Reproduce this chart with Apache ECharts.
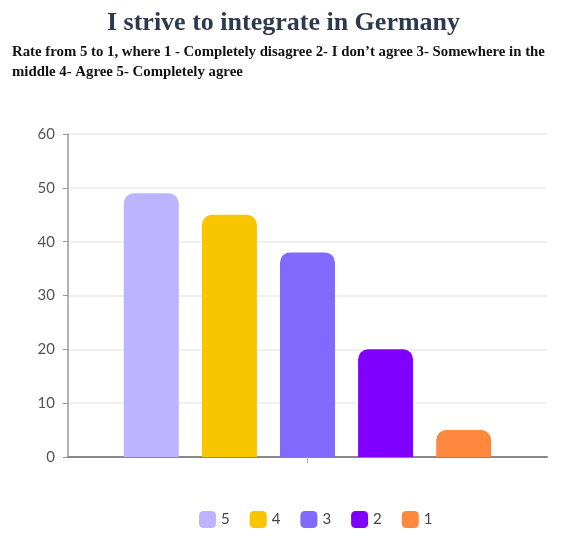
<!DOCTYPE html>
<html>
<head>
<meta charset="utf-8">
<script src="https://cdn.jsdelivr.net/npm/echarts@6/dist/echarts.min.js"></script>
<style>
  html, body { margin: 0; padding: 0; background: #fff; }
  #chart { width: 567px; height: 539px; }
</style>
</head>
<body>
<div id="chart"></div>
<script>
const categories = ['']
const seriesNames = ['5', '4', '3', '2', '1']
const seriesValues = [49, 45, 38, 20, 5]
const seriesColors = ['#bcb4fe', '#f9c400', '#8269fe', '#7f00fe', '#fe883d']
const yTicks = { min: 0, max: 60, interval: 10 }

const chart = echarts.init(document.getElementById('chart'))

const series = seriesNames.map((name, i) => ({
    name: name,
    type: 'bar',
    data: [seriesValues[i]],
    barWidth: 55,
    barGap: '42%',
    itemStyle: { color: seriesColors[i], borderRadius: [10, 10, 0, 0] }
}))

chart.setOption({
    animation: false,
    title: [{
        text: 'I strive to integrate in Germany',
        left: 'center',
        top: 5,
        textStyle: { fontFamily: 'Liberation Serif', fontWeight: 'bold', fontSize: 26, color: '#2b3a4e' }
    }, {
        text: 'Rate from 5 to 1, where 1 - Completely disagree 2- I don\u2019t agree 3- Somewhere in the\nmiddle 4- Agree 5- Completely agree',
        left: 7,
        top: 37,
        textStyle: { fontFamily: 'Liberation Serif', fontWeight: 'bold', fontSize: 14.8, lineHeight: 20, color: '#111' }
    }],
    legend: {
        bottom: 6,
        left: 194,
        itemWidth: 17,
        itemHeight: 17,
        itemGap: 20,
        icon: 'roundRect',
        textStyle: { fontFamily: 'Lato', fontSize: 15, color: '#444' },
        data: seriesNames
    },
    grid: { left: 68, right: 20, top: 134, bottom: 82 },
    xAxis: {
        type: 'category',
        data: categories,
        axisLine: { lineStyle: { color: '#888', width: 2 } },
        axisTick: { show: true, alignWithLabel: true, length: 6, lineStyle: { color: '#aaa' } },
        axisLabel: { show: false }
    },
    yAxis: {
        type: 'value',
        min: yTicks.min,
        max: yTicks.max,
        interval: yTicks.interval,
        axisLine: { show: true, lineStyle: { color: '#999', width: 1.5 } },
        axisTick: { show: true, length: 5, lineStyle: { color: '#999' } },
        axisLabel: { fontFamily: 'Lato', fontSize: 15, color: '#555', margin: 13 },
        splitLine: { lineStyle: { color: '#ebebeb', width: 1.5 } }
    },
    series: series
})
</script>
</body>
</html>
